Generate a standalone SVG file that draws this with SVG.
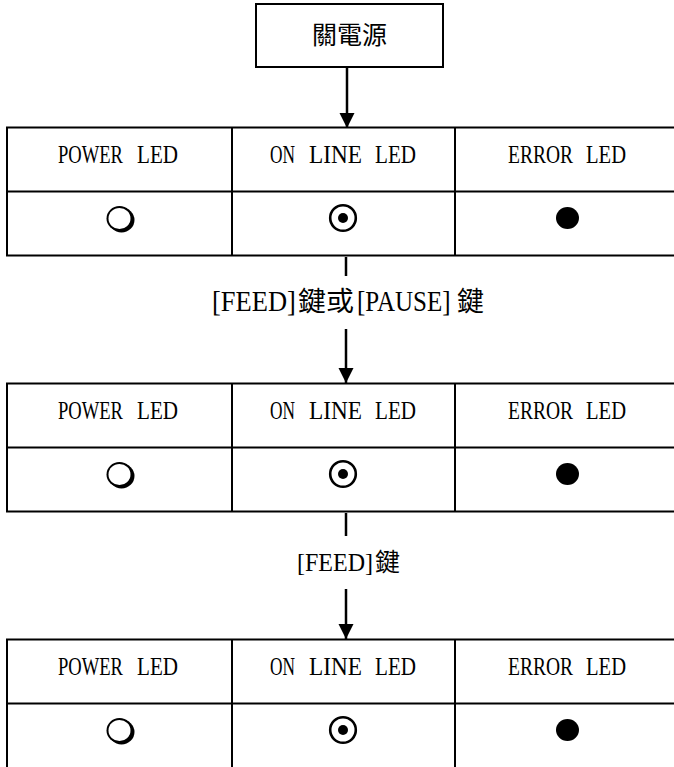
<svg xmlns="http://www.w3.org/2000/svg" width="674" height="767" viewBox="0 0 674 767">
<style>
.ln{stroke:#000;stroke-width:2;fill:none}
.bx{stroke:#000;stroke-width:2;fill:#fff}
.lat{font-family:"Liberation Serif","Noto Sans CJK TC",serif;fill:#000}
.cjk{font-family:"Noto Sans CJK TC","Noto Sans CJK SC",sans-serif;fill:#000}
.hd{font-size:26px}
.con{stroke:#000;stroke-width:2.5;fill:none}
</style>
<defs>
<marker id="ah" markerUnits="userSpaceOnUse" markerWidth="16" markerHeight="16" refX="15" refY="7.5" orient="auto">
<path d="M0,0 L15,7.5 L0,15 z" fill="#000"/>
</marker>
<g id="row">
<line class="ln" x1="232" y1="0" x2="232" y2="128"/>
<line class="ln" x1="455" y1="0" x2="455" y2="128"/>
<line class="ln" x1="7" y1="64" x2="680" y2="64"/>
<text class="lat hd" y="35.5"><tspan x="58" textLength="65" lengthAdjust="spacingAndGlyphs">POWER</tspan><tspan x="137" textLength="41" lengthAdjust="spacingAndGlyphs">LED</tspan></text>
<text class="lat hd" y="35.5"><tspan x="270" textLength="25" lengthAdjust="spacingAndGlyphs">ON</tspan><tspan x="309" textLength="53" lengthAdjust="spacingAndGlyphs">LINE</tspan><tspan x="375" textLength="41" lengthAdjust="spacingAndGlyphs">LED</tspan></text>
<text class="lat hd" y="35.5"><tspan x="508" textLength="65" lengthAdjust="spacingAndGlyphs">ERROR</tspan><tspan x="586" textLength="40" lengthAdjust="spacingAndGlyphs">LED</tspan></text>
<ellipse cx="119.5" cy="91" rx="13" ry="12.5" fill="#000"/>
<ellipse cx="121.5" cy="92.5" rx="13" ry="12.5" fill="#000"/>
<ellipse cx="119.5" cy="91" rx="11" ry="10.5" fill="#fff"/>
<circle cx="343" cy="90.5" r="12.8" fill="none" stroke="#000" stroke-width="2.6"/>
<circle cx="343" cy="90.5" r="5" fill="#000"/>
<ellipse cx="567.5" cy="90.5" rx="11.5" ry="11" fill="#000"/>
</g>
</defs>
<g id="power-off">
<rect class="bx" x="256" y="4" width="187" height="63"/>
<text class="cjk" x="349.5" y="44" font-size="25" text-anchor="middle">關電源</text>
</g>
<g id="table1">
<rect class="bx" x="7" y="127.5" width="673" height="128"/>
<use href="#row" x="0" y="127.5"/>
</g>
<g id="table2">
<rect class="bx" x="7" y="383.5" width="673" height="128"/>
<use href="#row" x="0" y="383.5"/>
</g>
<g id="table3">
<rect class="bx" x="7" y="639.5" width="673" height="140"/>
<use href="#row" x="0" y="639.5"/>
</g>
<g id="label1">
<text class="lat" transform="translate(212 311) scale(1 1.09)" font-size="26.5">[FEED]</text>
<text class="cjk" x="298" y="311" font-size="27" textLength="56" lengthAdjust="spacingAndGlyphs">鍵或</text>
<text class="lat" transform="translate(357 311) scale(1 1.16)" font-size="25">[PAUSE]</text>
<text class="cjk" x="457" y="311" font-size="27">鍵</text>
</g>
<g id="label2">
<text y="571"><tspan class="lat" x="297" font-size="25" textLength="76" lengthAdjust="spacingAndGlyphs">[FEED]</tspan><tspan class="cjk" x="375" font-size="25">鍵</tspan></text>
</g>
<g id="connectors">
<line class="con" x1="347" y1="67" x2="347" y2="128" marker-end="url(#ah)"/>
<line class="con" x1="346" y1="257" x2="346" y2="276"/>
<line class="con" x1="346" y1="329" x2="346" y2="383" marker-end="url(#ah)"/>
<line class="con" x1="346" y1="513" x2="346" y2="536"/>
<line class="con" x1="346" y1="589" x2="346" y2="639" marker-end="url(#ah)"/>
</g>
</svg>
